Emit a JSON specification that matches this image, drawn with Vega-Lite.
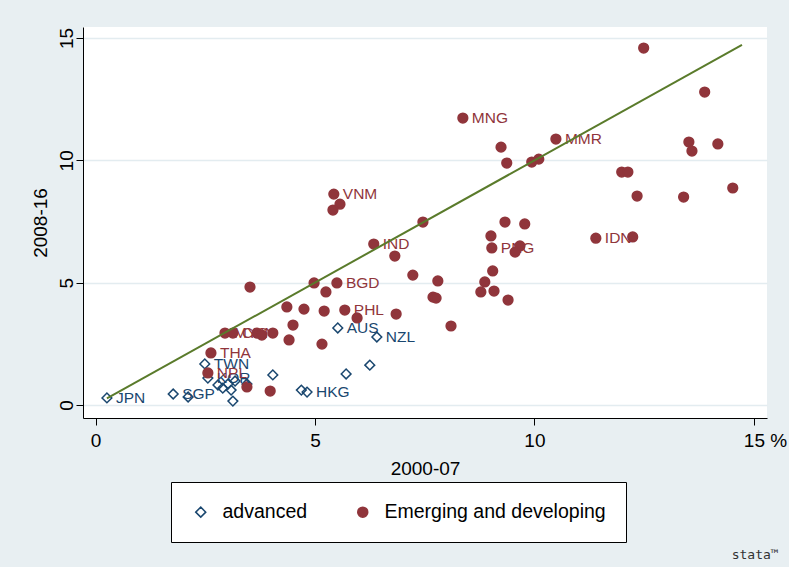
{
  "$schema": "https://vega.github.io/schema/vega-lite/v6.json",
  "width": 684,
  "height": 391,
  "autosize": {"type": "none"},
  "padding": {"left": 83, "top": 27, "right": 22, "bottom": 149},
  "background": "#E8EFF2",
  "view": {"fill": "white", "stroke": null},
  "config": {
    "font": "Liberation Sans",
    "axis": {
      "domainColor": "black", "domainWidth": 1,
      "tickColor": "black", "tickWidth": 1, "tickSize": 7,
      "labelFont": "Liberation Sans", "labelFontSize": 19, "labelColor": "black",
      "titleFont": "Liberation Sans", "titleFontSize": 19, "titleFontWeight": "normal", "titleColor": "black"
    }
  },
  "title": {"text": "stata™", "orient": "bottom", "anchor": "end", "fontSize": 13, "fontWeight": "normal", "color": "#333333", "font": "DejaVu Sans Mono", "offset": 6, "dx": -8},
  "datasets": {
    "pts": [
      {"x": 0.26, "y": 0.29, "g": "advanced", "lab": "JPN"},
      {"x": 1.77, "y": 0.45, "g": "advanced", "lab": "SGP"},
      {"x": 2.11, "y": 0.33, "g": "advanced", "lab": ""},
      {"x": 2.49, "y": 1.68, "g": "advanced", "lab": "TWN"},
      {"x": 2.56, "y": 1.10, "g": "advanced", "lab": "KOR"},
      {"x": 2.79, "y": 0.82, "g": "advanced", "lab": ""},
      {"x": 2.90, "y": 0.69, "g": "advanced", "lab": ""},
      {"x": 3.02, "y": 0.86, "g": "advanced", "lab": ""},
      {"x": 3.09, "y": 0.61, "g": "advanced", "lab": ""},
      {"x": 3.18, "y": 0.98, "g": "advanced", "lab": ""},
      {"x": 3.13, "y": 0.16, "g": "advanced", "lab": ""},
      {"x": 3.45, "y": 0.86, "g": "advanced", "lab": ""},
      {"x": 4.04, "y": 1.23, "g": "advanced", "lab": ""},
      {"x": 5.52, "y": 3.15, "g": "advanced", "lab": "AUS"},
      {"x": 6.41, "y": 2.78, "g": "advanced", "lab": "NZL"},
      {"x": 6.25, "y": 1.63, "g": "advanced", "lab": ""},
      {"x": 5.71, "y": 1.27, "g": "advanced", "lab": ""},
      {"x": 4.69, "y": 0.61, "g": "advanced", "lab": ""},
      {"x": 4.82, "y": 0.53, "g": "advanced", "lab": "HKG"},
      {"x": 12.49, "y": 14.59, "g": "Emerging and developing", "lab": ""},
      {"x": 13.88, "y": 12.79, "g": "Emerging and developing", "lab": ""},
      {"x": 8.37, "y": 11.73, "g": "Emerging and developing", "lab": "MNG"},
      {"x": 10.49, "y": 10.87, "g": "Emerging and developing", "lab": "MMR"},
      {"x": 9.24, "y": 10.54, "g": "Emerging and developing", "lab": ""},
      {"x": 9.37, "y": 9.89, "g": "Emerging and developing", "lab": ""},
      {"x": 9.94, "y": 9.93, "g": "Emerging and developing", "lab": ""},
      {"x": 10.10, "y": 10.05, "g": "Emerging and developing", "lab": ""},
      {"x": 13.52, "y": 10.75, "g": "Emerging and developing", "lab": ""},
      {"x": 13.59, "y": 10.38, "g": "Emerging and developing", "lab": ""},
      {"x": 14.18, "y": 10.67, "g": "Emerging and developing", "lab": ""},
      {"x": 11.99, "y": 9.52, "g": "Emerging and developing", "lab": ""},
      {"x": 12.13, "y": 9.52, "g": "Emerging and developing", "lab": ""},
      {"x": 12.34, "y": 8.54, "g": "Emerging and developing", "lab": ""},
      {"x": 13.40, "y": 8.50, "g": "Emerging and developing", "lab": ""},
      {"x": 14.52, "y": 8.87, "g": "Emerging and developing", "lab": ""},
      {"x": 11.40, "y": 6.82, "g": "Emerging and developing", "lab": "IDN"},
      {"x": 12.24, "y": 6.87, "g": "Emerging and developing", "lab": ""},
      {"x": 5.43, "y": 8.62, "g": "Emerging and developing", "lab": "VNM"},
      {"x": 5.57, "y": 8.21, "g": "Emerging and developing", "lab": ""},
      {"x": 5.41, "y": 7.97, "g": "Emerging and developing", "lab": ""},
      {"x": 7.46, "y": 7.48, "g": "Emerging and developing", "lab": ""},
      {"x": 9.33, "y": 7.48, "g": "Emerging and developing", "lab": ""},
      {"x": 9.78, "y": 7.40, "g": "Emerging and developing", "lab": ""},
      {"x": 9.01, "y": 6.91, "g": "Emerging and developing", "lab": ""},
      {"x": 9.03, "y": 6.42, "g": "Emerging and developing", "lab": "PNG"},
      {"x": 9.67, "y": 6.50, "g": "Emerging and developing", "lab": ""},
      {"x": 9.56, "y": 6.25, "g": "Emerging and developing", "lab": ""},
      {"x": 6.34, "y": 6.58, "g": "Emerging and developing", "lab": "IND"},
      {"x": 6.82, "y": 6.09, "g": "Emerging and developing", "lab": ""},
      {"x": 7.23, "y": 5.31, "g": "Emerging and developing", "lab": ""},
      {"x": 7.80, "y": 5.07, "g": "Emerging and developing", "lab": ""},
      {"x": 9.05, "y": 5.48, "g": "Emerging and developing", "lab": ""},
      {"x": 8.87, "y": 5.03, "g": "Emerging and developing", "lab": ""},
      {"x": 8.78, "y": 4.62, "g": "Emerging and developing", "lab": ""},
      {"x": 9.08, "y": 4.66, "g": "Emerging and developing", "lab": ""},
      {"x": 9.40, "y": 4.29, "g": "Emerging and developing", "lab": ""},
      {"x": 7.69, "y": 4.41, "g": "Emerging and developing", "lab": ""},
      {"x": 7.76, "y": 4.37, "g": "Emerging and developing", "lab": ""},
      {"x": 6.85, "y": 3.72, "g": "Emerging and developing", "lab": ""},
      {"x": 8.10, "y": 3.23, "g": "Emerging and developing", "lab": ""},
      {"x": 3.52, "y": 4.82, "g": "Emerging and developing", "lab": ""},
      {"x": 4.98, "y": 4.99, "g": "Emerging and developing", "lab": ""},
      {"x": 5.50, "y": 4.99, "g": "Emerging and developing", "lab": "BGD"},
      {"x": 5.25, "y": 4.62, "g": "Emerging and developing", "lab": ""},
      {"x": 4.36, "y": 4.01, "g": "Emerging and developing", "lab": ""},
      {"x": 4.75, "y": 3.92, "g": "Emerging and developing", "lab": ""},
      {"x": 5.21, "y": 3.84, "g": "Emerging and developing", "lab": ""},
      {"x": 5.68, "y": 3.88, "g": "Emerging and developing", "lab": "PHL"},
      {"x": 5.96, "y": 3.56, "g": "Emerging and developing", "lab": ""},
      {"x": 4.50, "y": 3.27, "g": "Emerging and developing", "lab": ""},
      {"x": 4.41, "y": 2.66, "g": "Emerging and developing", "lab": ""},
      {"x": 5.16, "y": 2.49, "g": "Emerging and developing", "lab": ""},
      {"x": 2.95, "y": 2.94, "g": "Emerging and developing", "lab": "MYS"},
      {"x": 3.13, "y": 2.94, "g": "Emerging and developing", "lab": "CHN"},
      {"x": 3.68, "y": 2.94, "g": "Emerging and developing", "lab": ""},
      {"x": 3.79, "y": 2.86, "g": "Emerging and developing", "lab": ""},
      {"x": 4.04, "y": 2.94, "g": "Emerging and developing", "lab": ""},
      {"x": 2.63, "y": 2.13, "g": "Emerging and developing", "lab": "THA"},
      {"x": 2.56, "y": 1.31, "g": "Emerging and developing", "lab": "NPL"},
      {"x": 3.45, "y": 0.74, "g": "Emerging and developing", "lab": ""},
      {"x": 3.98, "y": 0.57, "g": "Emerging and developing", "lab": ""}
    ],
    "fit": [
      {"x": 0.26, "y": 0.27},
      {"x": 14.73, "y": 14.72}
    ]
  },
  "encoding": {
    "x": {"field": "x", "type": "quantitative", "title": "2000-07",
      "scale": {"domain": [-0.285, 15.3], "nice": false, "zero": false},
      "axis": {"values": [0, 5, 10, 15], "grid": false, "labelPadding": 6, "titlePadding": 9,
        "labelExpr": "datum.value == 15 ? '15 %' : datum.label",
        "labelAlign": {"condition": {"test": "datum.value == 15", "value": "left"}, "value": "center"},
        "labelOffset": {"condition": {"test": "datum.value == 15", "value": -10.5}, "value": 0}}},
    "y": {"field": "y", "type": "quantitative", "title": "2008-16",
      "scale": {"domain": [-0.53, 15.45], "nice": false, "zero": false},
      "axis": {"values": [0, 5, 10, 15], "grid": true, "gridColor": "#E3ECF0", "gridWidth": 1.5,
        "labelAngle": -90, "labelAlign": "center", "labelBaseline": "alphabetic", "labelPadding": 4, "titlePadding": 7}}
  },
  "layer": [
    {
      "data": {"name": "pts"},
      "mark": {"type": "point", "strokeWidth": 1.5, "size": 95, "opacity": 1},
      "encoding": {
        "shape": {"field": "g", "type": "nominal",
          "scale": {"domain": ["advanced", "Emerging and developing"], "range": ["diamond", "circle"]},
          "legend": {"title": null, "orient": "none", "legendX": 88, "legendY": 455, "direction": "horizontal",
            "padding": 20, "fillColor": "white", "strokeColor": "black",
            "labelFontSize": 19.5, "labelFont": "Liberation Sans", "labelColor": "black", "labelLimit": 400,
            "symbolSize": 100, "symbolStrokeWidth": 1.5, "labelOffset": 12, "columnPadding": 45,
            "labelExpr": "datum.label == 'Emerging and developing' ? datum.label + '\u00a0\u00a0\u00a0\u00a0\u00a0\u00a0\u00a0' : datum.label"}},
        "stroke": {"field": "g", "type": "nominal",
          "scale": {"domain": ["advanced", "Emerging and developing"], "range": ["#1A476F", "#90353B"]},
          "legend": {"title": null, "orient": "none", "legendX": 88, "legendY": 455, "direction": "horizontal",
            "padding": 20, "fillColor": "white", "strokeColor": "black",
            "labelFontSize": 19.5, "labelFont": "Liberation Sans", "labelColor": "black", "labelLimit": 400,
            "symbolSize": 100, "symbolStrokeWidth": 1.5, "labelOffset": 12, "columnPadding": 45,
            "labelExpr": "datum.label == 'Emerging and developing' ? datum.label + '\u00a0\u00a0\u00a0\u00a0\u00a0\u00a0\u00a0' : datum.label"}},
        "fill": {"field": "g", "type": "nominal",
          "scale": {"domain": ["advanced", "Emerging and developing"], "range": ["transparent", "#90353B"]},
          "legend": {"title": null, "orient": "none", "legendX": 88, "legendY": 455, "direction": "horizontal",
            "padding": 20, "fillColor": "white", "strokeColor": "black",
            "labelFontSize": 19.5, "labelFont": "Liberation Sans", "labelColor": "black", "labelLimit": 400,
            "symbolSize": 100, "symbolStrokeWidth": 1.5, "labelOffset": 12, "columnPadding": 45,
            "labelExpr": "datum.label == 'Emerging and developing' ? datum.label + '\u00a0\u00a0\u00a0\u00a0\u00a0\u00a0\u00a0' : datum.label"}}
      }
    },
    {
      "data": {"name": "pts"},
      "transform": [{"filter": "datum.lab != ''"}],
      "mark": {"type": "text", "align": "left", "baseline": "middle", "dx": 9, "fontSize": 15.5, "font": "Liberation Sans"},
      "encoding": {
        "text": {"field": "lab"},
        "color": {"field": "g", "type": "nominal",
          "scale": {"domain": ["advanced", "Emerging and developing"], "range": ["#1A476F", "#90353B"]},
          "legend": null}
      }
    },
    {
      "data": {"name": "fit"},
      "mark": {"type": "line", "color": "#5A7B2B", "strokeWidth": 2},
      "encoding": {}
    }
  ]
}
